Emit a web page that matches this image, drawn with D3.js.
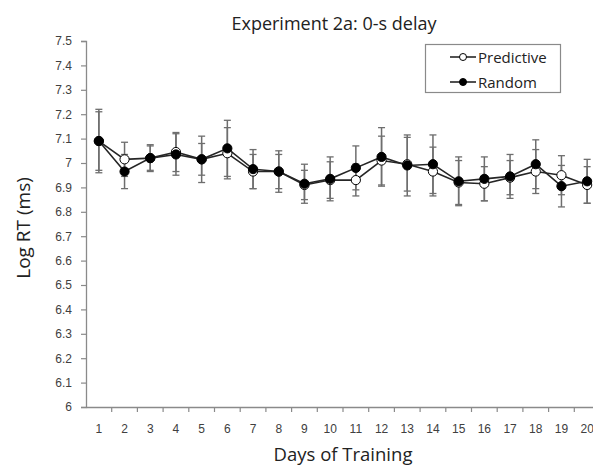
<!DOCTYPE html>
<html><head><meta charset="utf-8">
<script src="https://cdn.jsdelivr.net/npm/d3@7"></script>
<style>body{margin:0;background:#fff}svg{display:block;font-family:"Open Sans","Liberation Sans",sans-serif}</style>
</head><body><svg id="c" width="593" height="468"></svg>
<script>
const days = [1,2,3,4,5,6,7,8,9,10,11,12,13,14,15,16,17,18,19,20];
const predictive = [7.09,7.015,7.02,7.045,7.015,7.04,6.965,6.965,6.91,6.93,6.93,7.01,6.995,6.965,6.92,6.915,6.94,6.965,6.95,6.91];
const random = [7.09,6.965,7.02,7.035,7.015,7.06,6.975,6.965,6.915,6.935,6.98,7.025,6.99,6.995,6.925,6.935,6.945,6.995,6.905,6.925];
const predErr = [0.12,0.07,0.055,0.08,0.065,0.105,0.07,0.07,0.06,0.075,0.065,0.1,0.11,0.1,0.09,0.07,0.07,0.09,0.08,0.075];
const randErr = [0.13,0.07,0.05,0.085,0.095,0.115,0.08,0.085,0.08,0.09,0.09,0.12,0.125,0.12,0.1,0.09,0.09,0.1,0.085,0.09];
const yTicks = [6,6.1,6.2,6.3,6.4,6.5,6.6,6.7,6.8,6.9,7,7.1,7.2,7.3,7.4,7.5];
const title = "Experiment 2a: 0-s delay";
const xTitle = "Days of Training";
const yTitle = "Log RT (ms)";

const svg = d3.select("#c");
svg.append("rect").attr("width",593).attr("height",468).attr("fill","#fff");
const x = d3.scaleBand().domain(days).range([86, 600]);
const y = d3.scaleLinear().domain([6, 7.5]).range([407, 41]);
const axisCol = "#8a8a8a", textCol = "#404040";

// y axis
const ya = svg.append("g").attr("transform","translate(86,0)")
  .call(d3.axisLeft(y).tickValues(yTicks).tickSize(5).tickFormat(d=>d3.format("")(+d.toFixed(1))));
ya.select(".domain").attr("stroke",axisCol).attr("stroke-width",1.3);
ya.selectAll(".tick line").attr("stroke",axisCol).attr("stroke-width",1.2);
ya.selectAll(".tick text").attr("fill",textCol).attr("font-size",12).attr("x",-14);

// x axis
const xa = svg.append("g").attr("transform","translate(0,407)")
  .call(d3.axisBottom(x).tickSize(0).tickSizeOuter(0));
xa.select(".domain").attr("stroke",axisCol).attr("stroke-width",1.3);
xa.selectAll(".tick text").attr("fill",textCol).attr("font-size",12).attr("y",17);
// category boundary tick marks
svg.append("g").selectAll("line").data(days).join("line")
  .attr("x1",d=>x(d)+x.bandwidth()).attr("x2",d=>x(d)+x.bandwidth())
  .attr("y1",407).attr("y2",412).attr("stroke",axisCol).attr("stroke-width",1.2);

const cx = d => x(d) + x.bandwidth()/2;
const series = [
  {name:"Predictive", vals:predictive, err:predErr, fill:"#fff"},
  {name:"Random", vals:random, err:randErr, fill:"#000"}
];
const errCol = "#6e6e6e";
// error bars
series.forEach(s=>{
  const g = svg.append("g");
  days.forEach((d,i)=>{
    const X = cx(d), top = y(s.vals[i]+s.err[i]), bot = y(s.vals[i]-s.err[i]);
    g.append("line").attr("x1",X).attr("x2",X).attr("y1",top).attr("y2",bot).attr("stroke",errCol).attr("stroke-width",1.5);
    [top,bot].forEach(v=>g.append("line").attr("x1",X-3.5).attr("x2",X+3.5).attr("y1",v).attr("y2",v).attr("stroke",errCol).attr("stroke-width",1.3));
  });
});
// lines and markers
const line = d3.line().x((v,i)=>cx(days[i])).y(v=>y(v));
series.forEach(s=>{
  svg.append("path").attr("d",line(s.vals)).attr("fill","none").attr("stroke","#262626").attr("stroke-width",1.6);
});
series.forEach(s=>{
  svg.append("g").selectAll("circle").data(s.vals).join("circle")
    .attr("cx",(v,i)=>cx(days[i])).attr("cy",v=>y(v)).attr("r",4.6)
    .attr("fill",s.fill).attr("stroke","#000").attr("stroke-width",1);
});

// titles
svg.append("text").attr("x",334).attr("y",30).attr("text-anchor","middle").attr("font-size",18).attr("fill","#222").text(title);
svg.append("text").attr("x",343).attr("y",461).attr("text-anchor","middle").attr("font-size",18.5).attr("fill","#222").text(xTitle);
svg.append("text").attr("transform","translate(30,228) rotate(-90)").attr("text-anchor","middle").attr("font-size",19).attr("fill","#222").text(yTitle);

// legend
const lg = svg.append("g");
lg.append("rect").attr("x",425.5).attr("y",44.5).attr("width",135).attr("height",48).attr("fill","#fff").attr("stroke","#8a8a8a").attr("stroke-width",1.2);
series.forEach((s,i)=>{
  const yy = 57 + i*25;
  lg.append("line").attr("x1",450).attr("x2",476).attr("y1",yy).attr("y2",yy).attr("stroke","#262626").attr("stroke-width",1.6);
  lg.append("circle").attr("cx",463).attr("cy",yy).attr("r",3.5).attr("fill",s.fill).attr("stroke","#000");
  lg.append("text").attr("x",478).attr("y",yy+6).attr("font-size",15).attr("fill","#222").text(s.name);
});
</script></body></html>
